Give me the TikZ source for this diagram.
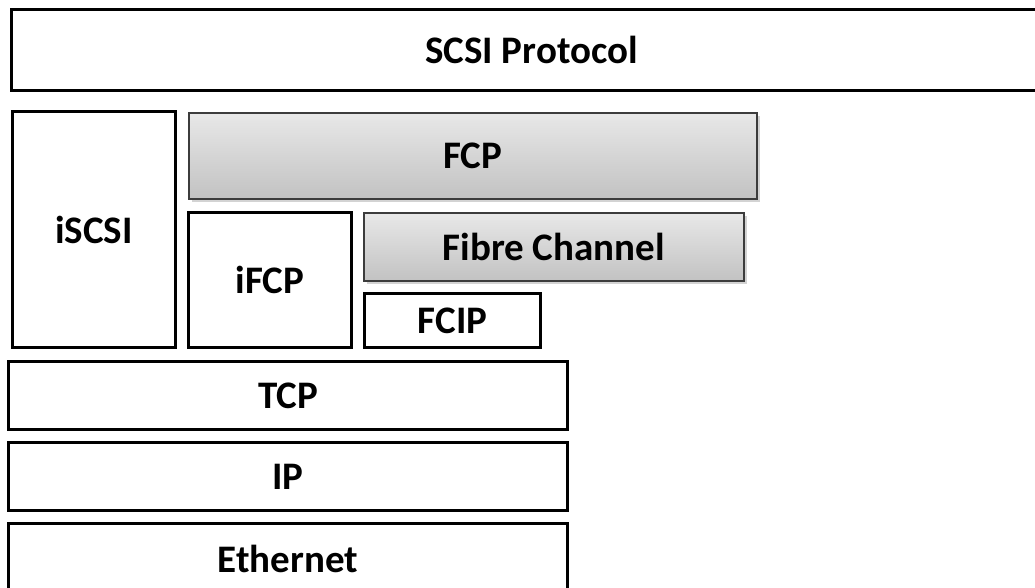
\documentclass[tikz,border=0pt]{standalone}
\usepackage{fontspec}
\setmainfont{Carlito}
\usetikzlibrary{shadows}
\definecolor{gtop}{HTML}{E8E8E8}
\definecolor{gbot}{HTML}{C2C2C2}
\definecolor{gline}{HTML}{3C3C3C}
\tikzset{
  layer/.style={draw=black, line width=3pt, fill=white, rectangle, anchor=north west, inner sep=0pt,
    font=\fontsize{39}{46}\selectfont\bfseries},
  graylayer/.style={draw=gline, line width=1.6pt, rectangle, anchor=north west, inner sep=0pt,
    top color=gtop, bottom color=gbot,
    drop shadow={opacity=0.35, shadow xshift=3pt, shadow yshift=-3pt},
    font=\fontsize{39}{46}\selectfont\bfseries},
}
\begin{document}
\begin{tikzpicture}[x=1pt,y=-1pt]
\useasboundingbox (0,0) rectangle (1035,587);
\clip (0,0) rectangle (1035,587);
\node[layer, minimum width=1040pt, minimum height=81pt] (scsi) at (10,8) {SCSI Protocol};
\node[layer, minimum width=163pt, minimum height=236pt] (iscsi) at (11,110) {iSCSI};
\node[graylayer, minimum width=568pt, minimum height=86pt] (fcp) at (188,112) {FCP};
\node[layer, minimum width=163pt, minimum height=135pt] (ifcp) at (187,211) {iFCP};
\node[graylayer, minimum width=380pt, minimum height=68pt] (fc) at (363,212) {Fibre Channel};
\node[layer, minimum width=176pt, minimum height=54pt] (fcip) at (363,292) {FCIP};
\node[layer, minimum width=559pt, minimum height=68pt] (tcp) at (7,360) {TCP};
\node[layer, minimum width=559pt, minimum height=68pt] (ip) at (7,441) {IP};
\node[layer, minimum width=559pt, minimum height=70pt] (eth) at (7,522) {Ethernet};
\end{tikzpicture}
\end{document}
